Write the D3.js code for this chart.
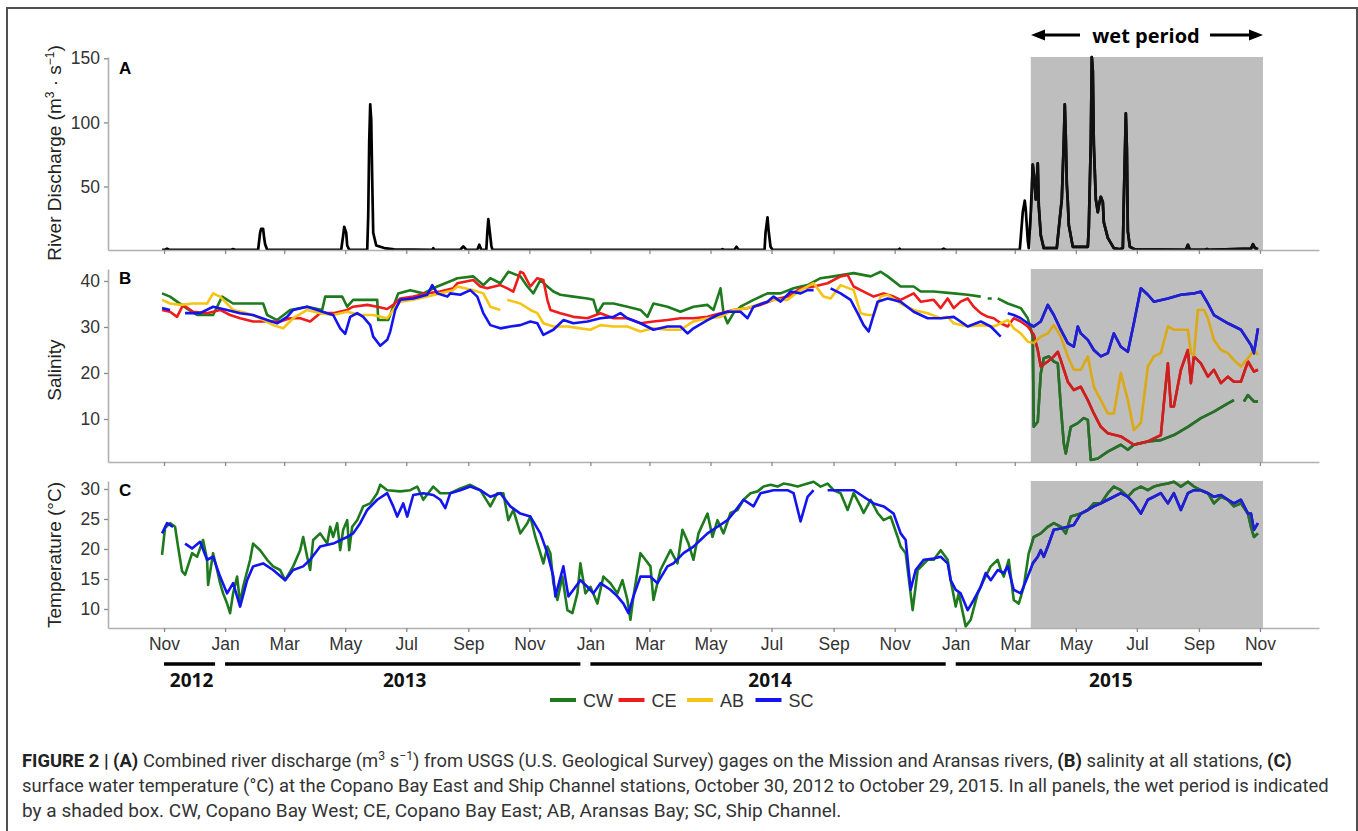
<!DOCTYPE html>
<html><head><meta charset="utf-8">
<script src="https://cdn.jsdelivr.net/npm/d3@7"></script>
<style>body{margin:0;background:#fff}svg{display:block}</style>
</head><body>
<svg id="chart" width="1358" height="831"></svg>
<script>
// ---------------- DATA ----------------
// Each record: [day, value] where day = days since 1 Nov 2012
const recordStart = "2012-11-01";
const axisStart = "2012-09-06", axisEnd = "2015-12-30";
const wetPeriod = ["2015-03-17", "2015-11-04"];

const stations = ["CW", "CE", "AB", "SC"];
const stationColors = ["#1d7a1d", "#ee1c1c", "#f5c414", "#1414f0"];
const stationColorsWet = ["#2b6e2b", "#cc2020", "#d6a826", "#2020cc"];

const dischargeTicks = [50, 100, 150];
const salinityTicks = [10, 20, 30, 40];
const temperatureTicks = [10, 15, 20, 25, 30];

const discharge = [[-2,0.7],[1,0.7],[3,1.5],[5,0.7],[67,0.7],[69,1.2],[71,0.7],[94,0.7],[96,14],[97,17],[99,17],[100,10],[101,5],[103,0.7],
[177,0.7],[179,12],[180,18.6],[182,14],[183,4],[185,0.7],[203,0.7],[204,27],[205,85],[206,114],[207,102],[208,55],[209,14],[212,4],[220,2],[230,1],
[268,0.7],[269,2],[270,0.7],[296,0.7],[299,3.3],[302,0.7],[313,0.7],[315,4.6],[317,0.7],[322,0.7],[323,14],[324,24.6],[325,18],[327,4],[328,0.7],
[557,0.7],[558,1.2],[559,0.7],[570,0.7],[572,3],[574,0.7],[600,0.7],[601,14],[603,26],[604,16],[606,3],[608,0.7],[734,0.7],[735,1.5],[736,0.7],
[777,0.7],[779,1.5],[781,0.7],[855,0.7],[856,10],[858,30],[860,39],[861,32],[863,8],[864,2],[866,30],[868,67],[869,60],[871,40],[873,68],[874,35],
[876,12],[879,2],[892,2],[895,25],[897,40],[899,85],[900,114],[901,88],[902,52],[903,38],[904,20],[908,3],[923,3],[924,18],[926,85],[927,151],
[928,140],[929,83],[931,40],[933,30],[934,35],[936,42],[938,38],[939,22],[943,10],[949,2],[955,1],[958,2],[959,40],[961,107],[962,80],[963,15],
[965,3],[970,1],[1021,0.7],[1023,4.5],[1025,0.7],[1040,0.7],[1042,1.2],[1044,0.7],[1086,1.5],[1088,5],[1090,2],[1093,1]];

const cwSalinity = [[-2,37.3],[6,36.6],[13,35.5],[23,34.0],[33,32.6],[49,32.6],[58,36.6],[69,35.1],[89,35.1],[99,35.1],[103,32.6],[113,31.5],[126,33.7],
[143,34.4],[158,33.7],[161,36.6],[178,36.6],[183,34.4],[189,35.9],[213,35.9],[214,31.5],[224,31.5],[234,37.3],[246,38.0],[259,37.3],[273,38.8],
[289,40.2],[293,40.6],[309,41.0],[319,39.1],[326,40.6],[336,39.5],[344,42.0],[356,41.0],[363,38.8],[369,37.3],[376,40.2],[383,38.8],[389,37.7],
[396,37.0],[409,36.6],[423,36.2],[429,35.9],[433,33.0],[439,35.1],[449,35.1],[463,34.4],[476,33.7],[483,32.2],[489,35.1],[503,34.4],[516,33.3],
[529,34.4],[543,34.8],[549,33.7],[556,38.4],[559,33.0],[563,30.8],[569,33.0],[576,34.4],[589,35.9],[603,37.3],[616,37.3],[629,38.4],[643,39.1],
[656,40.6],[669,41.0],[689,41.7],[706,41.0],[716,42.0],[723,41.0],[736,38.8],[749,38.8],[756,37.7],[769,37.7],[789,37.3],[803,37.0],[816,36.6],
[820,null],[823,36.2],[827,36.2],[830,null],[833,36.2],[843,35.1],[856,34.1],[863,31.9],[868,27.9],[869,8.3],[873,9.4],[876,19.9],[879,23.2],
[884,23.6],[889,22.5],[893,22.1],[896,12.7],[899,4.7],[901,2.5],[906,8.3],[913,9.1],[919,10.2],[923,9.8],[926,1.1],[933,1.4],[943,2.9],[956,4.4],
[963,3.3],[969,4.4],[983,5.1],[996,5.4],[1009,6.5],[1023,8.3],[1036,10.2],[1049,11.6],[1063,13.4],[1069,14.1],[1074,null],[1079,13.8],[1083,15.2],
[1089,13.8],[1093,13.8]];

const ceSalinity = [[-2,33.7],[6,33.3],[13,32.2],[19,34.8],[29,33.3],[43,33.0],[56,33.7],[66,32.6],[76,31.9],[89,31.2],[103,31.2],[116,31.2],[126,31.9],
[136,31.9],[146,31.2],[156,33.0],[169,33.0],[183,33.7],[189,34.4],[203,34.8],[213,34.4],[223,33.9],[229,34.8],[236,36.2],[249,36.6],[263,37.3],
[276,37.7],[289,38.4],[293,39.5],[309,40.2],[316,38.8],[323,38.4],[336,39.1],[343,38.4],[349,37.7],[356,42.0],[359,41.7],[366,38.8],[373,40.6],
[379,40.2],[383,35.9],[386,33.7],[396,33.0],[409,32.2],[423,31.9],[436,33.0],[449,31.9],[463,31.9],[476,30.8],[489,31.2],[503,31.5],[516,31.9],
[529,31.9],[543,32.2],[556,33.0],[569,33.7],[583,34.1],[596,34.8],[609,35.9],[623,36.6],[636,38.4],[649,38.8],[663,39.5],[676,41.0],[683,41.3],
[689,38.8],[699,37.7],[709,36.6],[719,37.3],[729,36.6],[736,35.9],[749,37.3],[756,35.5],[769,35.9],[776,34.1],[783,36.2],[789,34.1],[796,35.5],
[803,36.2],[809,34.4],[816,33.0],[823,32.2],[829,31.9],[836,30.8],[843,30.1],[849,31.9],[856,31.2],[863,30.1],[869,28.3],[873,25.0],[876,21.4],
[883,22.5],[889,23.6],[893,24.6],[896,22.8],[903,18.1],[909,16.3],[916,17.0],[923,14.1],[929,11.2],[936,8.3],[943,6.9],[956,6.2],[969,4.4],
[983,5.1],[996,6.5],[999,13.4],[1003,22.1],[1006,12.7],[1009,12.7],[1016,20.7],[1023,25.0],[1026,17.8],[1029,23.6],[1036,22.1],[1043,19.2],
[1049,20.7],[1056,17.8],[1063,19.2],[1069,18.1],[1076,18.1],[1083,22.5],[1086,21.4],[1089,20.3],[1093,20.7]];

const abSalinity = [[-2,35.9],[6,35.1],[16,34.8],[29,35.1],[43,35.1],[49,37.3],[56,36.6],[69,33.7],[83,33.0],[96,31.9],[109,30.4],[119,29.7],[129,31.9],
[143,33.7],[156,33.0],[169,32.6],[183,33.3],[196,32.6],[209,32.6],[223,31.9],[229,33.7],[236,35.5],[249,35.9],[263,36.6],[276,37.3],[289,38.0],
[293,38.8],[309,38.0],[319,37.3],[326,34.4],[336,33.7],[339,null],[343,35.9],[356,35.1],[366,33.7],[373,33.0],[379,30.8],[389,30.1],[403,30.1],
[416,29.7],[426,29.4],[436,30.4],[449,30.1],[463,30.1],[476,29.0],[489,29.7],[503,29.4],[516,29.4],[529,31.2],[543,31.9],[556,32.2],[569,33.7],
[583,34.1],[596,35.1],[609,35.9],[623,35.9],[636,38.0],[649,39.5],[659,36.6],[666,36.2],[676,39.1],[689,38.0],[696,33.0],[703,32.6],[709,32.6],
[716,36.6],[723,37.0],[736,35.1],[749,33.7],[763,33.0],[776,31.9],[783,32.2],[789,30.8],[803,30.1],[816,30.4],[829,30.1],[836,30.8],[843,31.5],
[849,29.7],[856,28.6],[863,26.8],[869,26.5],[876,27.9],[883,28.6],[889,30.4],[896,27.9],[903,23.6],[909,20.7],[916,20.7],[923,23.6],[929,17.0],
[936,14.1],[943,11.2],[949,11.2],[956,20.0],[963,14.1],[969,7.6],[976,9.1],[983,21.4],[989,23.6],[996,24.3],[1003,30.1],[1009,29.4],[1016,29.4],
[1023,29.4],[1026,24.3],[1029,23.9],[1033,33.7],[1039,33.7],[1043,31.9],[1049,27.2],[1056,25.0],[1063,24.3],[1069,22.8],[1076,21.4],[1083,23.2],
[1089,25.0],[1093,23.9]];

const scSalinity = [[-2,34.1],[6,33.7],[12,null],[21,33.0],[36,33.0],[49,34.4],[63,33.7],[76,33.0],[89,32.6],[103,31.5],[113,30.8],[123,32.2],[129,33.7],
[143,34.4],[153,33.7],[163,33.0],[169,32.6],[176,29.7],[181,28.5],[186,32.2],[193,33.0],[199,32.2],[206,30.4],[209,27.9],[216,25.9],[223,27.2],
[226,29.0],[231,33.7],[236,35.9],[249,36.2],[263,37.0],[268,39.1],[273,37.3],[283,36.6],[286,37.3],[296,37.0],[306,38.0],[313,36.6],[319,33.0],
[326,30.4],[336,29.7],[346,30.1],[356,30.4],[366,31.2],[373,30.8],[379,28.3],[389,29.4],[399,31.5],[409,30.8],[423,31.2],[436,31.9],[449,32.2],
[456,33.0],[463,31.9],[476,30.8],[489,29.4],[503,30.1],[516,30.1],[523,28.6],[529,29.7],[543,31.5],[553,32.6],[563,33.3],[576,33.3],[583,31.9],
[589,34.4],[603,35.5],[609,36.6],[616,35.5],[626,37.7],[636,37.3],[643,38.0],[649,38.0],[656,null],[666,38.4],[676,37.3],[686,35.9],[693,33.0],
[699,30.4],[704,29.0],[708,31.9],[713,35.5],[723,36.2],[736,35.5],[749,33.3],[763,31.9],[776,31.9],[789,32.2],[803,30.1],[816,31.2],[826,30.1],
[836,27.9],[839,null],[843,33.0],[849,32.6],[856,31.9],[863,30.8],[869,30.1],[876,31.2],[883,34.8],[889,32.6],[896,29.4],[903,26.5],[909,25.7],
[913,30.1],[916,28.6],[923,27.2],[929,25.0],[936,23.6],[943,24.3],[949,28.6],[956,25.7],[963,24.6],[969,30.8],[976,38.4],[983,37.0],[989,35.5],
[1003,36.2],[1016,37.0],[1029,37.3],[1036,37.7],[1043,35.1],[1049,32.6],[1063,30.8],[1076,29.4],[1086,26.1],[1089,24.3],[1093,29.7]];

const cwTemperature = [[-2,19.0],[1,23.5],[6,24.3],[11,23.7],[14,20.4],[18,16.3],[21,15.7],[28,19.3],[33,18.7],[39,21.5],[43,18.2],[44,14.0],[49,19.3],
[53,16.5],[56,14.3],[59,12.6],[63,10.9],[66,9.3],[69,12.6],[73,15.4],[76,10.9],[79,13.7],[86,18.2],[89,20.9],[96,19.8],[103,18.2],[109,17.1],
[116,16.5],[121,14.8],[129,17.1],[136,19.8],[139,22.0],[143,18.7],[146,16.5],[149,21.5],[156,22.6],[163,20.9],[166,23.7],[169,22.0],[173,24.3],
[176,19.8],[179,23.2],[183,24.8],[185,19.8],[188,23.7],[193,24.8],[199,27.1],[206,27.6],[213,29.3],[216,30.7],[223,29.8],[236,29.6],[246,29.8],
[253,30.4],[259,28.2],[269,30.4],[276,29.3],[286,29.3],[296,30.1],[306,30.7],[316,29.8],[326,27.1],[333,29.3],[339,29.3],[344,24.8],[349,26.5],
[356,22.6],[363,24.3],[366,25.4],[371,22.0],[376,19.3],[379,17.6],[383,20.4],[386,19.3],[389,14.3],[393,11.5],[398,15.4],[403,9.8],[408,9.3],
[413,12.6],[416,17.6],[421,12.6],[426,13.7],[433,10.9],[439,15.4],[446,14.3],[453,12.6],[458,14.8],[463,11.5],[466,8.2],[469,12.1],[476,19.3],
[481,18.2],[486,17.1],[489,11.5],[496,16.5],[506,19.8],[513,17.6],[518,23.2],[524,20.9],[529,18.2],[534,22.6],[543,25.9],[548,22.0],[553,24.8],
[559,22.6],[566,26.0],[573,26.5],[579,28.2],[586,29.3],[593,29.6],[599,30.4],[606,30.7],[613,30.4],[619,30.9],[626,30.7],[633,30.4],[643,30.9],
[649,31.2],[656,30.4],[663,30.9],[669,29.8],[676,29.3],[683,26.5],[689,29.3],[696,27.1],[699,26.0],[706,28.2],[713,26.0],[719,24.8],[726,25.4],
[733,22.0],[736,20.4],[741,19.3],[748,9.8],[753,16.5],[763,18.2],[769,18.2],[776,19.8],[783,18.2],[786,14.8],[791,10.4],[794,12.6],[801,7.1],
[806,8.2],[813,12.6],[819,14.8],[826,17.1],[833,18.2],[836,16.5],[839,15.4],[844,18.2],[849,11.5],[854,10.9],[859,13.7],[864,19.3],[869,22.0],
[876,22.6],[883,23.7],[889,24.3],[896,23.7],[901,22.6],[906,25.4],[916,25.9],[923,26.5],[929,27.6],[936,27.6],[943,29.3],[949,30.4],[956,29.8],
[963,28.7],[969,29.8],[976,30.4],[983,29.8],[989,30.4],[996,30.7],[1003,30.9],[1009,31.2],[1016,30.4],[1023,31.2],[1029,30.4],[1036,29.8],
[1043,29.3],[1049,27.6],[1056,28.7],[1063,28.2],[1069,27.1],[1076,27.6],[1083,25.9],[1086,23.7],[1089,22.0],[1093,22.6]];

const scTemperature = [[-2,22.6],[3,24.3],[9,23.7],[12,null],[21,20.9],[28,20.1],[36,21.2],[43,18.2],[49,18.7],[56,15.4],[63,12.6],[69,14.3],[76,10.4],
[83,14.8],[89,17.1],[99,17.6],[109,16.5],[121,14.8],[129,16.5],[139,17.1],[146,18.2],[156,20.4],[169,20.9],[183,22.0],[189,22.6],[196,24.3],
[203,26.5],[213,28.2],[223,29.3],[229,27.1],[233,25.4],[239,27.6],[243,25.4],[249,29.0],[259,29.3],[269,29.0],[276,28.2],[281,26.8],[286,29.3],
[296,29.8],[306,30.4],[316,29.8],[326,28.7],[336,29.3],[346,27.1],[356,25.9],[366,25.4],[376,22.6],[383,19.3],[389,15.4],[391,12.1],[399,17.1],
[404,12.1],[409,13.2],[416,14.8],[423,13.7],[429,12.6],[436,14.3],[446,13.2],[453,12.1],[459,10.9],[464,9.3],[469,12.1],[476,15.4],[486,15.4],
[493,14.3],[503,17.1],[509,17.6],[519,19.3],[529,20.4],[536,21.5],[543,22.6],[553,23.7],[563,24.8],[569,26.0],[579,28.2],[589,27.1],[596,29.3],
[609,29.8],[623,29.8],[629,29.3],[636,24.6],[643,28.7],[649,29.8],[653,null],[663,29.8],[676,29.8],[689,29.8],[699,28.7],[709,27.6],[719,27.1],
[729,25.9],[736,22.6],[741,21.5],[746,13.2],[751,16.5],[759,18.2],[769,18.4],[776,18.7],[783,17.6],[786,14.8],[791,13.2],[796,12.6],[803,9.8],
[809,11.5],[816,13.7],[821,16.0],[826,14.8],[833,16.5],[839,16.0],[843,17.1],[849,13.2],[856,12.6],[863,15.4],[868,17.6],[873,18.7],[876,19.8],
[879,18.7],[883,20.4],[889,23.2],[896,23.4],[903,23.7],[909,24.0],[916,25.9],[923,26.5],[929,27.1],[936,27.6],[943,28.2],[949,28.7],[956,29.3],
[963,28.7],[969,27.6],[976,25.9],[983,28.2],[989,28.7],[996,29.3],[1003,27.6],[1009,29.3],[1016,26.5],[1023,29.3],[1029,29.8],[1036,29.8],
[1043,29.3],[1049,28.7],[1056,29.0],[1063,28.2],[1069,27.6],[1076,28.2],[1083,25.9],[1086,25.9],[1089,23.2],[1093,24.3]];

const yearLabels = ["2012", "2013", "2014", "2015"];
const yearStarts = ["2012-11-01", "2013-01-01", "2014-01-01", "2015-01-01"];
const yearEnds = ["2012-12-22", "2013-12-22", "2014-12-22", "2015-11-03"];

const captionLines = [
  [{t:"FIGURE 2 | (A)", b:1}, {t:" Combined river discharge (m"}, {t:"3", s:1}, {t:" s"}, {t:"−1", s:1}, {t:") from USGS (U.S. Geological Survey) gages on the Mission and Aransas rivers, "}, {t:"(B)", b:1}, {t:" salinity at all stations, "}, {t:"(C)", b:1}],
  [{t:"surface water temperature (°C) at the Copano Bay East and Ship Channel stations, October 30, 2012 to October 29, 2015. In all panels, the wet period is indicated"}],
  [{t:"by a shaded box. CW, Copano Bay West; CE, Copano Bay East; AB, Aransas Bay; SC, Ship Channel."}]
];

// ---------------- DRAWING ----------------
const parse = d3.timeParse("%Y-%m-%d");
const day0 = parse(recordStart);
const toDate = d => d3.timeDay.offset(day0, d);
const FONT = "Arial, 'Liberation Sans', Helvetica, sans-serif";
const svg = d3.select("#chart");

svg.append("rect").attr("x", 7).attr("y", 8).attr("width", 1350).attr("height", 900)
  .attr("fill", "none").attr("stroke", "#505050").attr("stroke-width", 2);

const x = d3.scaleTime().domain([parse(axisStart), parse(axisEnd)]).range([108, 1319]);
const wx0 = x(parse(wetPeriod[0])), wx1 = x(parse(wetPeriod[1]));

const panels = [
  {id:"A", top:57, bottom:250, domain:[0.5, 151], ticks:dischargeTicks, labels:false,
   series:[{data:discharge, color:"#000", wet:"#111", w:2.7}]},
  {id:"B", top:269, bottom:462, domain:[0.65, 42.6], ticks:salinityTicks, labels:false,
   series:[cwSalinity, ceSalinity, abSalinity, scSalinity].map((d,i) => ({data:d, color:stationColors[i], wet:stationColorsWet[i], w:2.6}))},
  {id:"C", top:481, bottom:628, domain:[6.83, 31.33], ticks:temperatureTicks, labels:true,
   series:[{data:cwTemperature, color:stationColors[0], wet:stationColorsWet[0], w:2.6},
           {data:scTemperature, color:stationColors[3], wet:stationColorsWet[3], w:2.6}]}
];

const defs = svg.append("defs");

panels.forEach((p, pi) => {
  const y = d3.scaleLinear().domain(p.domain).range([p.bottom, p.top]);
  const g = svg.append("g");
  g.append("rect").attr("x", wx0).attr("y", p.top).attr("width", wx1 - wx0).attr("height", p.bottom - p.top)
    .attr("fill", "#bebebe");
  const clipId = "wetclip" + pi;
  defs.append("clipPath").attr("id", clipId).append("rect")
    .attr("x", wx0).attr("y", p.top - 20).attr("width", wx1 - wx0).attr("height", p.bottom - p.top + 40);
  const line = d3.line().defined(d => d[1] != null).x(d => x(toDate(d[0]))).y(d => y(d[1]));
  p.series.forEach(s => {
    g.append("path").attr("d", line(s.data)).attr("fill", "none").attr("stroke", s.color)
      .attr("stroke-width", s.w).attr("stroke-linejoin", "round");
  });
  p.series.forEach(s => {
    g.append("path").attr("d", line(s.data)).attr("fill", "none").attr("stroke", s.wet)
      .attr("stroke-width", s.w).attr("stroke-linejoin", "round").attr("clip-path", `url(#${clipId})`);
  });
  const ya = g.append("g").attr("transform", "translate(108,0)")
    .call(d3.axisLeft(y).tickValues(p.ticks).tickSize(4).tickSizeOuter(0).tickPadding(4));
  const xa = g.append("g").attr("transform", `translate(0,${p.bottom})`)
    .call(d3.axisBottom(x).ticks(d3.timeMonth.every(2)).tickSize(4).tickSizeOuter(0).tickPadding(6)
      .tickFormat(p.labels ? d3.timeFormat("%b") : () => ""));
  [ya, xa].forEach(a => {
    a.select(".domain").attr("stroke", "#b0b0b0").attr("stroke-width", 1.6);
    a.selectAll(".tick line").attr("stroke", "#8a8a8a").attr("stroke-width", 1.3);
    a.selectAll(".tick text").attr("fill", "#333").style("font-family", FONT).style("font-size", "17.5px");
  });
  g.append("text").attr("x", 119).attr("y", p.top + (pi === 0 ? 17 : 15)).text(p.id)
    .style("font-family", FONT).style("font-size", "17px").style("font-weight", "bold").attr("fill", "#000");
});

// y-axis titles
function yTitle(cx, cy, parts) {
  const t = svg.append("text").attr("transform", `translate(${cx},${cy}) rotate(-90)`).attr("text-anchor", "middle")
    .style("font-family", FONT).style("font-size", "19px").attr("fill", "#222");
  parts.forEach(pt => {
    const ts = t.append("tspan").text(pt.t);
    if (pt.s) ts.attr("dy", -7).style("font-size", "12px");
    if (pt.after) ts.attr("dy", 7);
  });
}
yTitle(61, 153, [{t:"River Discharge (m"}, {t:"3", s:1}, {t:" · s", after:1}, {t:"−1", s:1}, {t:")", after:1}]);
yTitle(61, 370, [{t:"Salinity"}]);
yTitle(61, 555, [{t:"Temperature (°C)"}]);

// year bars
const yg = svg.append("g");
yearLabels.forEach((lab, i) => {
  const a = x(parse(yearStarts[i])), b = x(parse(yearEnds[i]));
  yg.append("line").attr("x1", a).attr("x2", b).attr("y1", 664).attr("y2", 664)
    .attr("stroke", "#000").attr("stroke-width", 3.5);
  yg.append("text").attr("x", (a + b) / 2 + 2).attr("y", 687).attr("text-anchor", "middle").text(lab)
    .style("font-family", "'Open Sans', Lato, sans-serif").style("font-size", "19px").style("font-weight", "bold").attr("fill", "#111");
});

// legend
const lg = svg.append("g");
stations.forEach((s, i) => {
  const lx = 550 + i * 68.5;
  lg.append("line").attr("x1", lx).attr("x2", lx + 26).attr("y1", 700).attr("y2", 700)
    .attr("stroke", stationColors[i]).attr("stroke-width", 4);
  lg.append("text").attr("x", lx + 33).attr("y", 706.5).text(s)
    .style("font-family", FONT).style("font-size", "18px").attr("fill", "#333");
});

// wet period label with arrows
const wg = svg.append("g");
wg.append("text").attr("x", 1146).attr("y", 43).attr("text-anchor", "middle").text("wet period")
  .style("font-family", "'Open Sans', Lato, sans-serif").style("font-size", "20px").style("font-weight", "bold").attr("fill", "#000");
wg.append("line").attr("x1", 1040).attr("x2", 1080).attr("y1", 35).attr("y2", 35).attr("stroke", "#000").attr("stroke-width", 3);
wg.append("path").attr("d", "M1031,35 L1045,29.5 L1045,40.5 Z").attr("fill", "#000");
wg.append("line").attr("x1", 1210).attr("x2", 1252).attr("y1", 35).attr("y2", 35).attr("stroke", "#000").attr("stroke-width", 3);
wg.append("path").attr("d", "M1263,35 L1249,29.5 L1249,40.5 Z").attr("fill", "#000");

// caption
const capTargets = [[22, 767, 1270], [22, 792, 1308], [22, 817, 820]];
captionLines.forEach((segs, i) => {
  const [cx, cy, w] = capTargets[i];
  const t = svg.append("text").attr("x", 0).attr("y", 0)
    .style("font-family", "'Liberation Sans Narrow', 'Arial Narrow', Roboto, Arial, sans-serif").style("font-size", "18px").attr("fill", "#333");
  let shifted = false;
  segs.forEach(sg => {
    const ts = t.append("tspan").text(sg.t);
    if (sg.b) ts.style("font-weight", "bold").attr("fill", "#222");
    if (sg.s) { ts.attr("dy", -7).style("font-size", "12px"); shifted = true; }
    else if (shifted) { ts.attr("dy", 7); shifted = false; }
  });
  const bw = t.node().getComputedTextLength();
  t.attr("transform", `translate(${cx},${cy}) scale(${w / bw},1)`);
});
</script>
</body></html>
